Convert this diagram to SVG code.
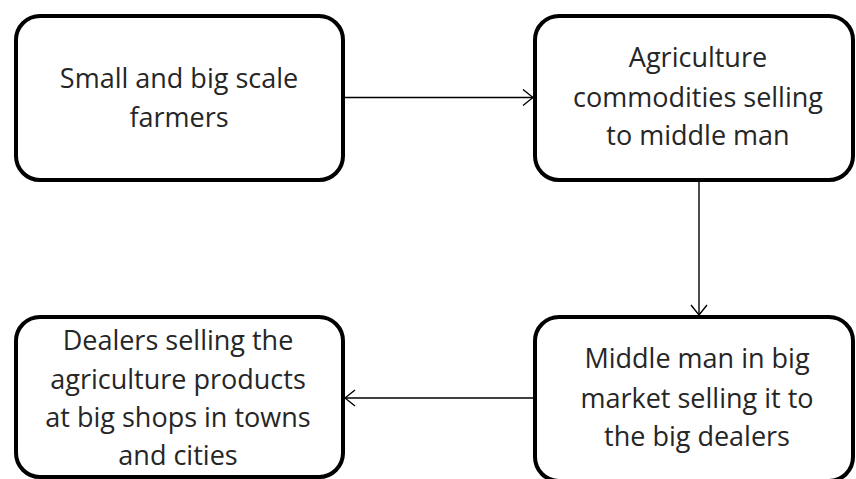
<svg xmlns="http://www.w3.org/2000/svg" width="856" height="479" viewBox="0 0 856 479">
<style>
.box{fill:#fff;stroke:#000;stroke-width:4}
.lbl{font-family:"Open Sans","Liberation Sans",sans-serif;font-size:27px;fill:#262626;text-anchor:middle}
.con{stroke:#000;stroke-width:1.4;fill:none}
</style>
<defs>
<marker id="arr" markerWidth="12" markerHeight="18" refX="11" refY="9" orient="auto" markerUnits="userSpaceOnUse">
<path d="M1,1 L11,9 L1,17" fill="none" stroke="#000" stroke-width="1.4"/>
</marker>
</defs>
<rect width="856" height="479" fill="#fff"/>
<g id="connectors">
<line class="con" x1="343" y1="97.5" x2="533" y2="97.5" marker-end="url(#arr)"/>
<line class="con" x1="699" y1="182" x2="699" y2="315" marker-end="url(#arr)"/>
<line class="con" x1="533" y1="398" x2="345" y2="398" marker-end="url(#arr)"/>
</g>
<g id="node1">
<rect class="box" x="16" y="16" width="327" height="164" rx="24"/>
<text class="lbl" x="179" y="88">Small and big scale</text>
<text class="lbl" x="179" y="127">farmers</text>
</g>
<g id="node2">
<rect class="box" x="535" y="16" width="318" height="164" rx="24"/>
<text class="lbl" x="698" y="67">Agriculture</text>
<text class="lbl" x="698" y="107">commodities selling</text>
<text class="lbl" x="698" y="145">to middle man</text>
</g>
<g id="node3">
<rect class="box" x="535" y="317" width="318" height="164" rx="24"/>
<text class="lbl" x="697" y="368">Middle man in big</text>
<text class="lbl" x="697" y="408">market selling it to</text>
<text class="lbl" x="697" y="446">the big dealers</text>
</g>
<g id="node4">
<rect class="box" x="16" y="317" width="327" height="160" rx="24"/>
<text class="lbl" x="178" y="350">Dealers selling the</text>
<text class="lbl" x="178" y="389">agriculture products</text>
<text class="lbl" x="178" y="427">at big shops in towns</text>
<text class="lbl" x="178" y="465">and cities</text>
</g>
</svg>
